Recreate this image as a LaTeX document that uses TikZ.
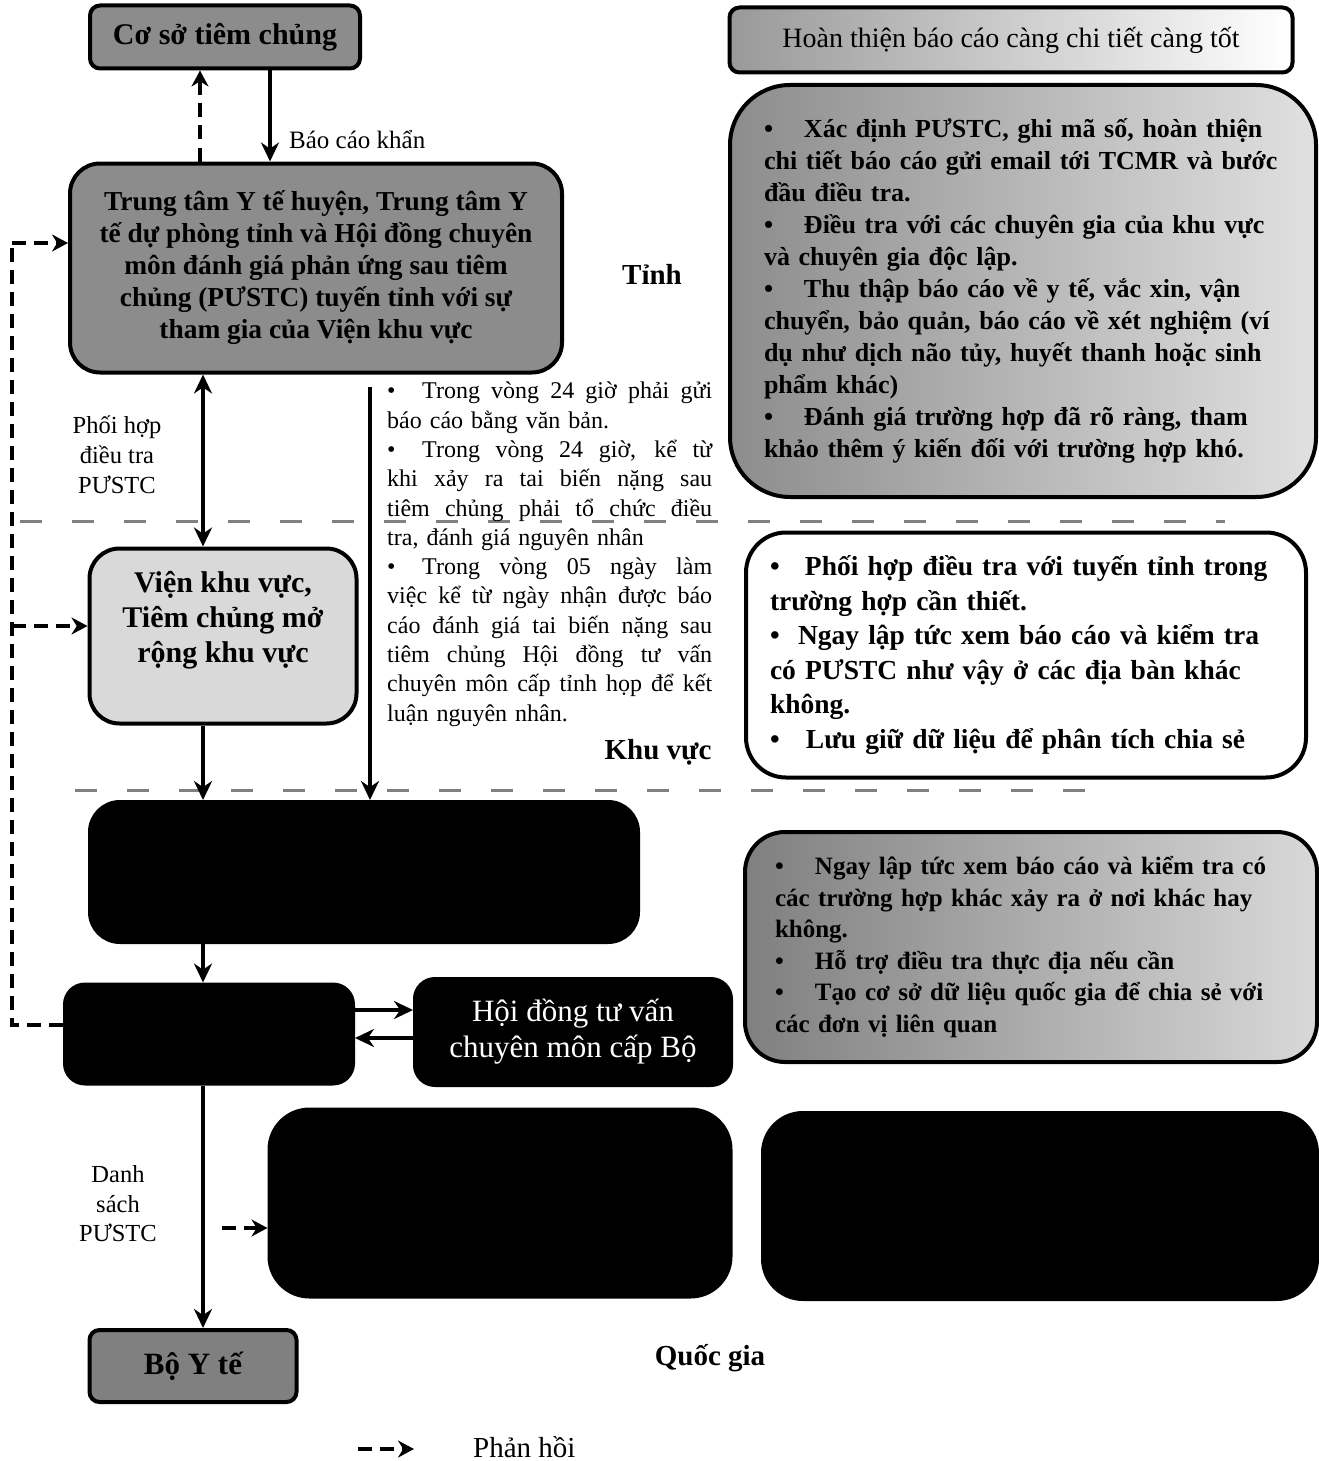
\documentclass[tikz,border=0pt]{standalone}
\usepackage{fontspec}
\setmainfont{Liberation Serif}
\usetikzlibrary{arrows.meta}
\newcommand{\fs}[2]{\fontsize{#1}{#2}\selectfont}
\newcommand{\bul}[1]{\makebox[#1][l]{•}}
\newcommand{\jl}[1]{\hbox to 325pt{\spaceskip=0.25em plus 1.5em minus 0.05em\relax #1}}
\begin{document}
\begin{tikzpicture}[x=1pt,y=-1pt,
  boxbase/.style={draw=black,line width=4pt,inner sep=6pt,align=center},
  arr/.style={line width=3.6pt,-{Stealth[length=19pt,width=18pt]}},
  darr/.style={line width=3.6pt,{Stealth[length=19pt,width=18pt]}-{Stealth[length=19pt,width=18pt]}},
  fbarrow/.style={line width=4pt,dash pattern=on 14pt off 8pt,-{Stealth[length=16pt,width=17pt]}},
  fbline/.style={line width=4pt,dash pattern=on 14pt off 8pt},
  sepline/.style={line width=3pt,black!50,dash pattern=on 22pt off 30pt},
  darkbox/.style={boxbase,fill=black,text=white},
  lbl/.style={inner sep=0pt,align=center}]
\useasboundingbox[fill=white] (0,0) rectangle (1319,1461);

% separators
\draw[sepline] (20,521) -- (1225,521);
\draw[sepline] (75,790) -- (1110,790);

% column coordinates
\coordinate (c200) at (200,0);
\coordinate (c203) at (203,0);
\coordinate (c270) at (270,0);
\coordinate (lx) at (12,0);
\coordinate (ya) at (0,243);
\coordinate (yv) at (0,626);
\coordinate (yc) at (0,1025);
\coordinate (r1) at (0,1010);
\coordinate (r2) at (0,1038);

% boxes
\node[boxbase,fill=black!45,rounded corners=10pt,minimum width=270pt,minimum height=63pt,
      font={\fs{30}{34}\bfseries}] (cs) at (225,37) {Cơ sở tiêm chủng};

\node[boxbase,left color=black!40,right color=white,rounded corners=10pt,minimum width=563pt,minimum height=65pt,
      font={\fs{28}{32}}] (ht) at (1011,40) {Hoàn thiện báo cáo càng chi tiết càng tốt};

\node[boxbase,fill=black!45,rounded corners=30pt,minimum width=492pt,minimum height=209pt,
      font={\fs{27.4}{32}\bfseries}] (big) at (316,268)
  {Trung tâm Y tế huyện, Trung tâm Y\\tế dự phòng tỉnh và Hội đồng chuyên\\môn đánh giá phản ứng sau tiêm\\chủng (PƯSTC) tuyến tỉnh với sự\\tham gia của Viện khu vực};

\node[boxbase,left color=black!45,right color=black!12,rounded corners=60pt,minimum width=586pt,minimum height=412pt,
      text width=518pt,align=left,font={\fs{26}{32}\bfseries}] (rb1) at (1023,291)
  {\bul{40pt}Xác định PƯSTC, ghi mã số, hoàn thiện\\
   chi tiết báo cáo gửi email tới TCMR và bước\\
   đầu điều tra.\\
   \bul{40pt}Điều tra với các chuyên gia của khu vực\\
   và chuyên gia độc lập.\\
   \bul{40pt}Thu thập báo cáo về y tế, vắc xin, vận\\
   chuyển, bảo quản, báo cáo về xét nghiệm (ví\\
   dụ như dịch não tủy, huyết thanh hoặc sinh\\
   phẩm khác)\\
   \bul{40pt}Đánh giá trường hợp đã rõ ràng, tham\\
   khảo thêm ý kiến đối với trường hợp khó.};

\node[boxbase,fill=white,rounded corners=40pt,minimum width=560pt,minimum height=245pt,
      text width=512pt,align=left,font={\fs{27.5}{34.5}\bfseries}] (rb2) at (1026,655)
  {\bul{35pt}Phối hợp điều tra với tuyến tỉnh trong\\
   trường hợp cần thiết.\\
   \bul{28pt}Ngay lập tức xem báo cáo và kiểm tra\\
   có PƯSTC như vậy ở các địa bàn khác\\
   không.\\
   \bul{36pt}Lưu giữ dữ liệu để phân tích chia sẻ};

\node[boxbase,fill=black!15,rounded corners=30pt,minimum width=267pt,minimum height=175pt] (vien) at (223,636) {};
\node[lbl,font={\fs{30}{35}\bfseries}] (vientxt) at (223,620) {Viện khu vực,\\Tiêm chủng mở\\rộng khu vực};

\node[darkbox,rounded corners=30pt,minimum width=548pt,minimum height=140pt] (d1) at (364,872) {};

\node[boxbase,left color=black!50,right color=black!15,rounded corners=40pt,minimum width=572pt,minimum height=230pt,
      text width=512pt,align=left,font={\fs{25}{31.5}\bfseries}] (rb3) at (1031,947)
  {\bul{40pt}Ngay lập tức xem báo cáo và kiểm tra có\\
   các trường hợp khác xảy ra ở nơi khác hay\\
   không.\\
   \bul{40pt}Hỗ trợ điều tra thực địa nếu cần\\
   \bul{40pt}Tạo cơ sở dữ liệu quốc gia để chia sẻ với\\
   các đơn vị liên quan};

\node[darkbox,rounded corners=20pt,minimum width=288pt,minimum height=99pt] (cuc) at (209,1034) {};
\node[darkbox,rounded corners=20pt,minimum width=316pt,minimum height=106pt,
      font={\fs{31}{36}}] (hd) at (573,1032) {Hội đồng tư vấn\\chuyên môn cấp Bộ};

\node[darkbox,rounded corners=40pt,minimum width=461pt,minimum height=187pt] (bl) at (500,1203) {};
\node[darkbox,rounded corners=40pt,minimum width=554pt,minimum height=186pt] (br) at (1040,1206) {};

\node[boxbase,fill=black!50,rounded corners=10pt,minimum width=207pt,minimum height=72pt,
      font={\fs{31}{34}\bfseries}] (byt) at (193,1366) {Bộ Y tế};

% middle text
\node[anchor=north west,inner sep=0pt,text width=326pt,align=left,font={\fs{24}{29.3}}] (mid) at (387,382)
  {\jl{\bul{35pt}Trong vòng 24 giờ phải gửi}
   báo cáo bằng văn bản.\\
   \jl{\bul{35pt}Trong vòng 24 giờ, kể từ}
   \jl{khi xảy ra tai biến nặng sau}
   \jl{tiêm chủng phải tổ chức điều}
   tra, đánh giá nguyên nhân\\
   \jl{\bul{35pt}Trong vòng 05 ngày làm}
   \jl{việc kể từ ngày nhận được báo}
   \jl{cáo đánh giá tai biến nặng sau}
   \jl{tiêm chủng Hội đồng tư vấn}
   \jl{chuyên môn cấp tỉnh họp để kết}
   luận nguyên nhân.};

% labels
\node[lbl,font={\fs{29}{32}\bfseries}] (tinh) at (652,274) {Tỉnh};
\node[lbl,font={\fs{29}{32}\bfseries}] (kv) at (658,752) {Khu vực};
\node[lbl,font={\fs{29}{32}\bfseries}] (qg) at (710,1358) {Quốc gia};
\node[lbl,font={\fs{24.5}{30}}] (phtxt) at (117,455) {Phối hợp\\điều tra\\PƯSTC};
\node[lbl,font={\fs{24.5}{29.5}}] (dstxt) at (118,1204) {Danh\\sách\\PƯSTC};
\node[lbl,anchor=west,font={\fs{25}{28}}] (bck) at (289,140) {Báo cáo khẩn};

% connectors
\draw[arr] (cs.south -| c270) -- (big.north -| c270);
\draw[fbarrow] (big.north -| c200) -- (cs.south -| c200);
\draw[darr] (big.south -| c203) -- (vien.north -| c203);
\coordinate (mtop) at (370,387);
\draw[arr] (mtop) -- (d1.north -| mtop);
\draw[arr] (vien.south -| c203) -- (d1.north -| c203);
\draw[arr] (d1.south -| c203) -- (cuc.north -| c203);
\draw[arr] (cuc.east |- r1) -- (hd.west |- r1);
\draw[arr] (hd.west |- r2) -- (cuc.east |- r2);
\draw[arr] (cuc.south -| c203) -- (byt.north -| c203);
\coordinate (ds) at (222,1228);
\draw[fbarrow] (ds) -- (bl.west |- ds);

% feedback loop
\draw[fbline] (cuc.west |- yc) -- (lx |- yc) -- (lx |- ya);
\draw[fbarrow] (lx |- ya) -- (big.west |- ya);
\draw[fbarrow] (lx |- yv) -- (vien.west |- yv);

% legend
\coordinate (lg1) at (358,1449);
\coordinate (lg2) at (414,1449);
\draw[fbarrow] (lg1) -- (lg2);
\node[lbl,anchor=west,font={\fs{29}{32}}] (ph) at (473,1447) {Phản hồi};
\end{tikzpicture}
\end{document}
